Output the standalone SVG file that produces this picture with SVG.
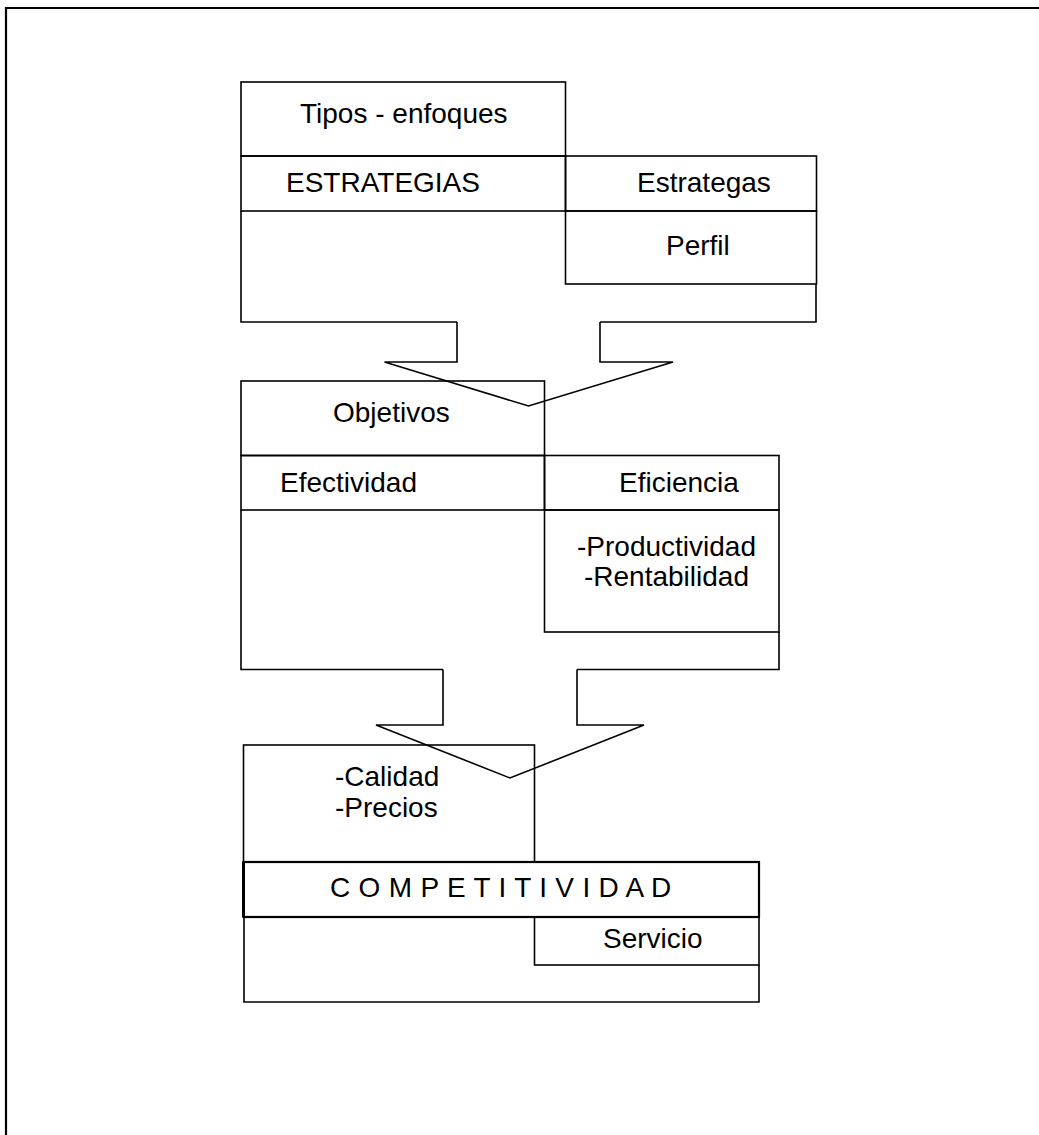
<svg xmlns="http://www.w3.org/2000/svg" width="1039" height="1135" viewBox="0 0 1039 1135">
<style>
.b{fill:none;stroke:#000;stroke-width:1.6;stroke-linejoin:miter}
.f{fill:none;stroke:#000;stroke-width:2.2}
text{font-family:"Liberation Sans",Arial,sans-serif;font-size:28px;fill:#000}
</style>
<rect width="1039" height="1135" fill="#fff"/>
<path class="f" d="M6,1135 V8 H1039"/>
<g id="tipos"><rect class="b" x="241" y="82" width="324.5" height="74"/><text x="300" y="123">Tipos - enfoques</text></g>
<g id="estrategias"><rect class="b" x="241" y="156" width="324.5" height="55"/><text x="286" y="192">ESTRATEGIAS</text></g>
<g id="estrategas"><rect class="b" x="565.5" y="156" width="251" height="55"/><text x="637" y="192">Estrategas</text></g>
<g id="perfil"><rect class="b" x="565.5" y="211" width="251" height="73"/><text x="666" y="255">Perfil</text></g>
<g id="objetivos"><rect class="b" x="241" y="381" width="303.5" height="74.5"/><text x="333" y="422">Objetivos</text></g>
<g id="efectividad"><rect class="b" x="241" y="455.5" width="303.5" height="54.5"/><text x="280" y="492">Efectividad</text></g>
<g id="eficiencia"><rect class="b" x="544.5" y="455.5" width="234.5" height="54.5"/><text x="619" y="492">Eficiencia</text></g>
<g id="productividad"><rect class="b" x="544.5" y="510" width="234.5" height="122"/><text x="577" y="556">-Productividad</text><text x="584" y="586">-Rentabilidad</text></g>
<g id="calidad"><rect class="b" x="243.5" y="745" width="291" height="117"/><text x="335" y="786">-Calidad</text><text x="335" y="817">-Precios</text></g>
<g id="competitividad"><rect class="f" x="243.5" y="862" width="515.5" height="55"/><line x1="243.5" y1="862" x2="243.5" y2="917" stroke="#000" stroke-width="3"/><text x="330" y="897" letter-spacing="0.3">C O M P E T I T I V I D A D</text></g>
<g id="servicio"><rect class="b" x="534.5" y="917" width="224.5" height="48"/><text x="603" y="948">Servicio</text></g>
<g id="contenedores">
<path class="b" d="M241,211 V322 H457 M600,322 H816 V284"/>
<path class="b" d="M241,510 V669.5 H443 M577,669.5 H779 V632"/>
<path class="b" d="M244,917 V1002 H759 V965"/>
</g>
<g id="connectors">
<path class="b" d="M457,322 V362 H384.5 L528.5,406 L673,362 H600 V322"/>
<path class="b" d="M443,669.5 V725 H376 L510,778 L644,725 H577 V669.5"/>
</g>
</svg>
